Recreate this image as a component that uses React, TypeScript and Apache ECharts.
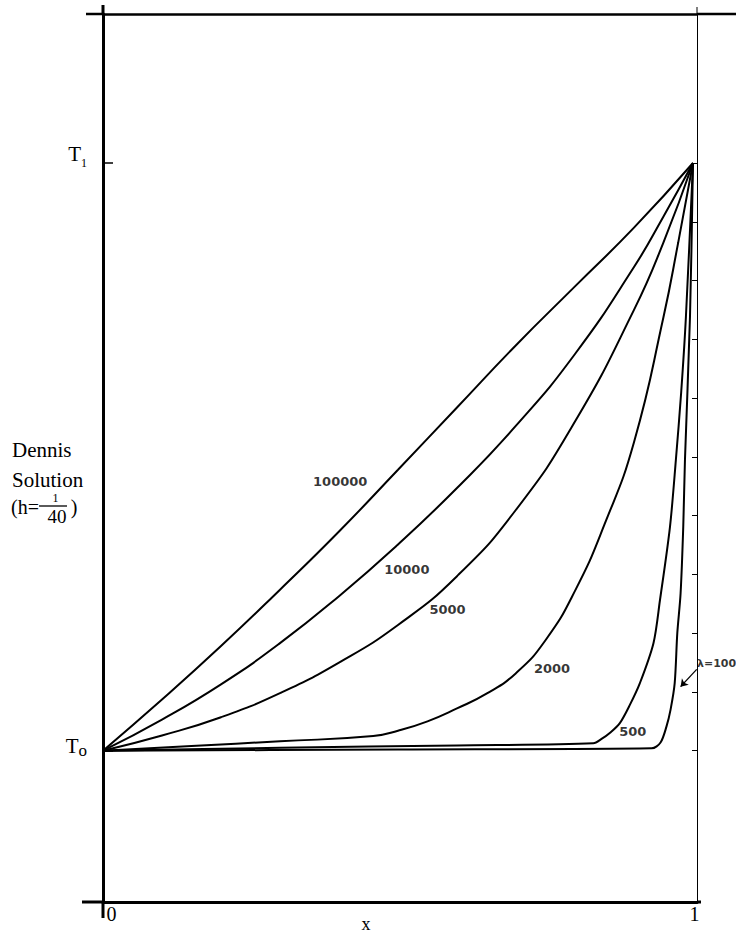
import React, { useEffect, useRef } from 'react';
import * as echarts from 'echarts';

// ---- data (x in [0,1], T normalised so T0 = 0, T1 = 1) ----
const curve100000: number[][] = [
  [0, 0], [0.1, 0.087], [0.2, 0.178], [0.3, 0.274], [0.4, 0.373], [0.5, 0.478],
  [0.6, 0.584], [0.7, 0.69], [0.8, 0.79], [0.9, 0.89], [1, 1],
];
const curve10000: number[][] = [
  [0, 0], [0.1, 0.053], [0.2, 0.113], [0.3, 0.183], [0.4, 0.263], [0.5, 0.351],
  [0.6, 0.447], [0.7, 0.553], [0.8, 0.675], [0.9, 0.823], [0.95, 0.909], [1, 1],
];
const curve5000: number[][] = [
  [0, 0], [0.1, 0.026], [0.2, 0.057], [0.3, 0.098], [0.4, 0.15], [0.5, 0.214],
  [0.6, 0.297], [0.7, 0.41], [0.8, 0.56], [0.9, 0.75], [0.95, 0.865], [1, 1],
];
const curve2000: number[][] = [
  [0, 0], [0.15, 0.008], [0.3, 0.016], [0.458, 0.025], [0.5, 0.034], [0.55, 0.05],
  [0.6, 0.072], [0.65, 0.097], [0.7, 0.132], [0.75, 0.188], [0.8, 0.272], [0.85, 0.385],
  [0.9, 0.525], [0.95, 0.738], [0.975, 0.865], [1, 1],
];
const curve500: number[][] = [
  [0, 0], [0.3, 0.005], [0.6, 0.009], [0.831, 0.0126], [0.845, 0.02], [0.86, 0.031],
  [0.876, 0.047], [0.893, 0.078], [0.91, 0.115], [0.933, 0.183], [0.944, 0.256],
  [0.961, 0.381], [0.971, 0.495], [0.98, 0.61], [0.988, 0.738], [1, 1],
];
const curve100: number[][] = [
  [0, 0], [0.5, 0.002], [0.93, 0.004], [0.945, 0.014], [0.955, 0.041], [0.962, 0.07],
  [0.969, 0.115], [0.9734, 0.2], [0.979, 0.268], [0.9835, 0.381], [0.9864, 0.495],
  [0.9949, 0.738], [1, 1],
];
const curves = [curve100000, curve10000, curve5000, curve2000, curve500, curve100];
const curveNames = ['100000', '10000', '5000', '2000', '500', '100'];

// curve labels
const labelNames = ['100000', '10000', '5000', '2000', '500', 'λ=100'];
const labelX = [0.402, 0.515, 0.584, 0.761, 0.898, 1.04];
const labelT = [0.458, 0.308, 0.241, 0.14, 0.032, 0.149];

// arrow pointing to the λ=100 curve
const arrowFrom = [1.0063, 0.1385];
const arrowTo = [0.979, 0.109];

// axis ticks / labels
const leftTickValues = [0, 1];
const leftTickSubs = ['o', '1'];
const rightTickValues = [0, 0.1, 0.2, 0.3, 0.4, 0.5, 0.6, 0.7, 0.8, 0.9, 1];
const xTickValues = [0, 1];
const xTickNames = ['0', '1'];

const X_MAX = 1.0068;
const Y_MIN = -0.2574;
const Y_MAX = 1.2535;

const SERIF = '"Liberation Serif", "Times New Roman", serif';
const SANS = '"DejaVu Sans", sans-serif';

export default function App() {
  const ref = useRef<HTMLDivElement>(null);
  useEffect(() => {
    if (!ref.current) return;
    const chart = echarts.init(ref.current, undefined, { renderer: 'svg' });

    const lineSeries = curves.map((c, i) => ({
      type: 'line',
      name: curveNames[i],
      data: c,
      showSymbol: false,
      symbol: 'none',
      smooth: i < 4 ? 0.5 : 0.3,
      lineStyle: { color: '#000', width: 2 },
      z: 3,
    }));

    const labelData = labelNames.map((n, i) => ({
      value: [labelX[i], labelT[i]],
      name: n,
      label: { fontSize: n.startsWith('λ') ? 11 : 13 },
    }));

    const option: any = {
      animation: false,
      backgroundColor: '#fff',
      grid: { left: 103, right: 39, top: 14, bottom: 32, containLabel: false, outerBoundsMode: 'none' },
      xAxis: [
        {
          type: 'value', min: 0, max: X_MAX, position: 'bottom',
          axisLine: { show: true, onZero: false, lineStyle: { color: '#000', width: 3 } },
          axisTick: { show: false },
          splitLine: { show: false },
          axisLabel: {
            show: true,
            customValues: xTickValues,
            margin: 2,
            formatter: (v: number) => {
              const i = xTickValues.indexOf(v);
              return i === 0 ? `{z|${xTickNames[i]}}` : `{o|${xTickNames[i]}}`;
            },
            rich: {
              z: { fontFamily: SERIF, fontSize: 20, color: '#000', padding: [0, 0, 0, 17] },
              o: { fontFamily: SERIF, fontSize: 20, color: '#000', padding: [0, 0, 0, 3] },
            },
          },
        },
        {
          type: 'value', min: 0, max: X_MAX, position: 'top',
          axisLine: { show: true, onZero: false, lineStyle: { color: '#000', width: 2.5 } },
          axisTick: { show: false },
          axisLabel: { show: false },
          splitLine: { show: false },
        },
      ],
      yAxis: [
        {
          type: 'value', min: Y_MIN, max: Y_MAX, position: 'left',
          axisLine: { show: true, onZero: false, lineStyle: { color: '#000', width: 3 } },
          axisTick: { show: true, inside: true, length: 10, customValues: leftTickValues, lineStyle: { color: '#000', width: 1.5 } },
          splitLine: { show: false },
          axisLabel: {
            show: true,
            customValues: leftTickValues,
            margin: 16,
            formatter: (v: number) => {
              const i = leftTickValues.indexOf(v);
              return i === 1 ? `{t1|T}{s1|${leftTickSubs[i]}}` : `{t0|T}{s0|${leftTickSubs[i]}}`;
            },
            rich: {
              t1: { fontFamily: SERIF, fontSize: 21, color: '#000', verticalAlign: 'top', padding: [0, 0, 18, 0] },
              s1: { fontFamily: SERIF, fontSize: 12, color: '#000', verticalAlign: 'top', padding: [14, 0, 0, 0] },
              t0: { fontFamily: SERIF, fontSize: 21, color: '#000', verticalAlign: 'top', padding: [0, 0, 10, 0] },
              s0: { fontFamily: SERIF, fontSize: 17, color: '#000', verticalAlign: 'top', padding: [7, 0, 0, 0] },
            },
          },
        },
        {
          type: 'value', min: Y_MIN, max: Y_MAX, position: 'right',
          axisLine: { show: true, onZero: false, lineStyle: { color: '#000', width: 1 } },
          axisTick: { show: true, inside: true, length: 5, customValues: rightTickValues, lineStyle: { color: '#000', width: 1 } },
          axisLabel: { show: false },
          splitLine: { show: false },
        },
      ],
      series: [
        ...lineSeries,
        {
          type: 'scatter',
          data: labelData,
          symbolSize: 0,
          clip: false,
          silent: true,
          z: 4,
          label: {
            show: true,
            position: 'inside',
            formatter: (p: any) => p.name,
            fontFamily: SANS,
            fontWeight: 'bold',
            color: '#000',
          },
        },
        {
          type: 'lines',
          coordinateSystem: 'cartesian2d',
          clip: false,
          silent: true,
          symbol: ['none', 'arrow'],
          symbolSize: 7,
          lineStyle: { color: '#000', width: 1.3, opacity: 1 },
          data: [{ coords: [arrowFrom, arrowTo] }],
          z: 4,
        },
      ],
      graphic: [
        // frame overhangs
        { type: 'line', shape: { x1: 103, y1: 5, x2: 103, y2: 14 }, style: { stroke: '#000', lineWidth: 3 } },
        { type: 'line', shape: { x1: 103, y1: 902, x2: 103, y2: 918 }, style: { stroke: '#000', lineWidth: 3 } },
        { type: 'line', shape: { x1: 82, y1: 902, x2: 103, y2: 902 }, style: { stroke: '#000', lineWidth: 3 } },
        { type: 'line', shape: { x1: 86, y1: 14, x2: 103, y2: 14 }, style: { stroke: '#000', lineWidth: 2.5 } },
        { type: 'line', shape: { x1: 697, y1: 14, x2: 736, y2: 14 }, style: { stroke: '#000', lineWidth: 2.5 } },
        { type: 'line', shape: { x1: 697, y1: 7, x2: 697, y2: 14 }, style: { stroke: '#000', lineWidth: 1 } },
        { type: 'line', shape: { x1: 697, y1: 902, x2: 701, y2: 902 }, style: { stroke: '#000', lineWidth: 3 } },
        // y-axis title
        { type: 'text', x: 12, y: 450, style: { text: 'Dennis', font: `21px ${SERIF}`, fill: '#000', textAlign: 'left', textVerticalAlign: 'middle' } },
        { type: 'text', x: 12, y: 480, style: { text: 'Solution', font: `21px ${SERIF}`, fill: '#000', textAlign: 'left', textVerticalAlign: 'middle' } },
        { type: 'text', x: 11, y: 507, style: { text: '(h=', font: `20px ${SERIF}`, fill: '#000', textAlign: 'left', textVerticalAlign: 'middle' } },
        { type: 'text', x: 55.5, y: 497.5, style: { text: '1', font: `12px ${SERIF}`, fill: '#000', textAlign: 'center', textVerticalAlign: 'middle' } },
        { type: 'line', shape: { x1: 39, y1: 506, x2: 67, y2: 506 }, style: { stroke: '#000', lineWidth: 1.3 } },
        { type: 'text', x: 57, y: 516, style: { text: '40', font: `19px ${SERIF}`, fill: '#000', textAlign: 'center', textVerticalAlign: 'middle' } },
        { type: 'text', x: 74, y: 507, style: { text: ')', font: `20px ${SERIF}`, fill: '#000', textAlign: 'center', textVerticalAlign: 'middle' } },
        // x-axis title
        { type: 'text', x: 366, y: 924, style: { text: 'x', font: `18px ${SERIF}`, fill: '#000', textAlign: 'center', textVerticalAlign: 'middle' } },
      ],
    };
    chart.setOption(option);
    return () => chart.dispose();
  }, []);
  return <div ref={ref} style={{ position: 'fixed', left: 0, top: 0, width: 736, height: 934, background: '#fff' }} />;
}
